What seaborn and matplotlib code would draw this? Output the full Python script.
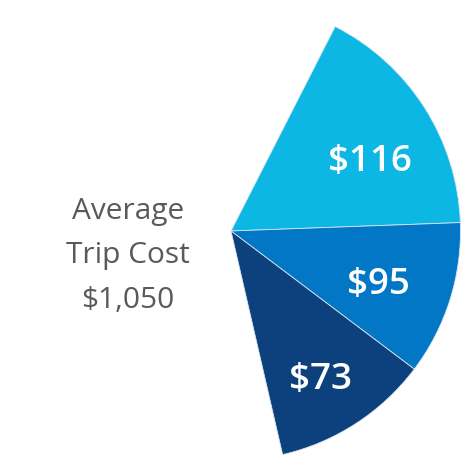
import matplotlib
matplotlib.use("Agg")
import matplotlib.pyplot as plt
import seaborn as sns
import numpy as np

# data
labels = ["$116", "$95", "$73"]
costs = [116, 95, 73]
spans_deg = [60.9, 39.1, 40.0]   # angular width of each wedge as drawn
colors = ["#0cb7e4", "#0177c6", "#0c417d"]
center_text = ["Average", "Trip Cost", "$1,050"]

sns.set_theme(style="white")
plt.rcParams["font.family"] = ["Open Sans", "DejaVu Sans"]

W, H = 461, 462
fig = plt.figure(figsize=(W / 100, H / 100), dpi=100)
ax = fig.add_axes([0, 0, 1, 1])

cx, cy, r = 231, 231, 229.5
sizes = spans_deg + [360 - sum(spans_deg)]
wedges, _ = ax.pie(sizes, colors=colors + ["none"], startangle=63.0,
                   counterclock=False, center=(cx, cy), radius=r,
                   wedgeprops=dict(edgecolor="#d8e6f2", linewidth=0.6))
wedges[-1].set_edgecolor("none")

# pie() resets the limits, so set them afterwards
ax.set_xlim(0, W)
ax.set_ylim(0, H)
ax.set_aspect("equal")
ax.axis("off")

# label placement inside each wedge (fraction of radius, angle nudge)
label_dist = [0.68, 0.68, 0.75]
label_nudge = [-5.5, -2.0, -1.5]
for w, lab, d, nd in zip(wedges[:3], labels, label_dist, label_nudge):
    ang = np.deg2rad((w.theta1 + w.theta2) / 2 + nd)
    ax.text(cx + r * d * np.cos(ang), cy + r * d * np.sin(ang) - 2, lab,
            ha="center", va="center", color="white", fontsize=26.5,
            fontweight="semibold")

for i, t in enumerate(center_text):
    ax.text(128, H - 212 - i * 44, t, ha="center", va="center",
            color="#5a5a5a", fontsize=21.5)

fig.savefig("out.png", dpi=100, facecolor="white")
